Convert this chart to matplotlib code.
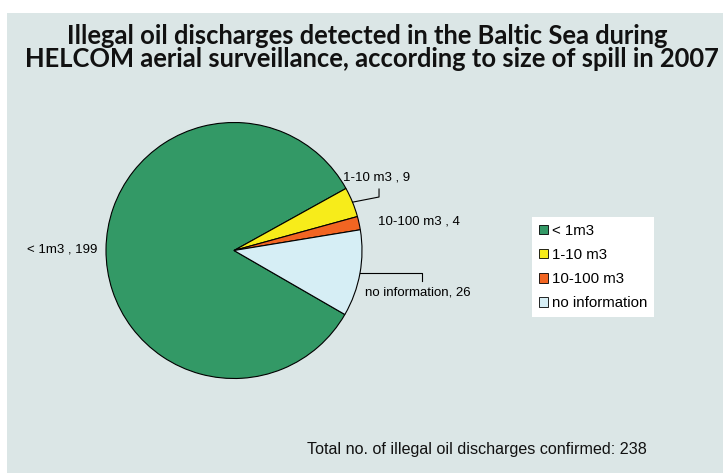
import matplotlib
matplotlib.use("Agg")
import matplotlib.pyplot as plt
from matplotlib.patches import Rectangle
import numpy as np

categories = ["< 1m3", "1-10 m3", "10-100 m3", "no information"]
label_texts = ["< 1m3 , 199", "1-10 m3 , 9", "10-100 m3 , 4", "no information, 26"]
values = [199, 9, 4, 26]
colors = ["#339966", "#f7ec1a", "#f26522", "#d6eef5"]
total = 238
title1 = "Illegal oil discharges detected in the Baltic Sea during"
title2 = "HELCOM aerial surveillance, according to size of spill in 2007"
footer = "Total no. of illegal oil discharges confirmed: %d" % total

W, H = 723, 473
fig = plt.figure(figsize=(W / 100, H / 100), dpi=100, facecolor="white")
fig.patches.append(Rectangle((7 / W, 0), 1, (H - 13) / H, transform=fig.transFigure,
                             facecolor="#dbe6e6", edgecolor="none", zorder=-5))

cx, cy, r = 234, 250.5, 128
ax = fig.add_axes([(cx - r) / W, (H - cy - r) / H, 2 * r / W, 2 * r / H])
ax.set_zorder(2)
wedges, _ = ax.pie(values, colors=colors, startangle=-30, counterclock=False,
                   wedgeprops=dict(edgecolor="black", linewidth=0.8))
ax.set_xlim(-1, 1)
ax.set_ylim(-1, 1)
ax.set_aspect("equal")
ax.axis("off")

lab_kw = dict(fontsize=9.5, family="Liberation Sans", color="black", va="center")
ax.text(-1.07, 0.01, label_texts[0], ha="right", **lab_kw)
ax.text(0.85, 0.574, label_texts[1], ha="left", **lab_kw)
ax.text(1.125, 0.23, label_texts[2], ha="left", **lab_kw)
ax.text(1.02, -0.33, label_texts[3], ha="left", **lab_kw)

def mid(w):
    a = np.deg2rad((w.theta1 + w.theta2) / 2)
    return np.cos(a), np.sin(a)

x1, y1 = mid(wedges[1])
ax.plot([x1, 1.133, 1.133], [y1, 0.418, 0.48], color="black", lw=0.8, clip_on=False)
x3, y3 = mid(wedges[3])
ax.plot([x3, 1.47, 1.47], [y3, y3, -0.238], color="black", lw=0.8, clip_on=False)

handles = [Rectangle((0, 0), 1, 1, facecolor=c, edgecolor="black", linewidth=0.6) for c in colors]
leg = fig.legend(handles, categories, loc="upper left", bbox_to_anchor=(532 / W, 1 - 217 / H),
                 frameon=True, fancybox=False, framealpha=1, edgecolor="white",
                 prop=dict(family="Liberation Sans", size=10.8), handlelength=0.6, handleheight=0.6,
                 handletextpad=0.3, labelspacing=0.68, borderpad=0.45, borderaxespad=0)
leg.get_frame().set_linewidth(0)
leg.set_zorder(3)

tkw = dict(fontsize=18.4, family="Lato", fontweight="bold",
           ha="center", va="baseline", color="#111111")
fig.text(367 / W, 1 - 44 / H, title1, **tkw)
fig.text(372 / W, 1 - 67 / H, title2, **tkw)

fig.text(307 / W, 1 - 449 / H, footer, fontsize=11.6, family="Liberation Sans",
         ha="left", va="center", color="#111111")

fig.savefig("out.png", dpi=100, facecolor="white")
